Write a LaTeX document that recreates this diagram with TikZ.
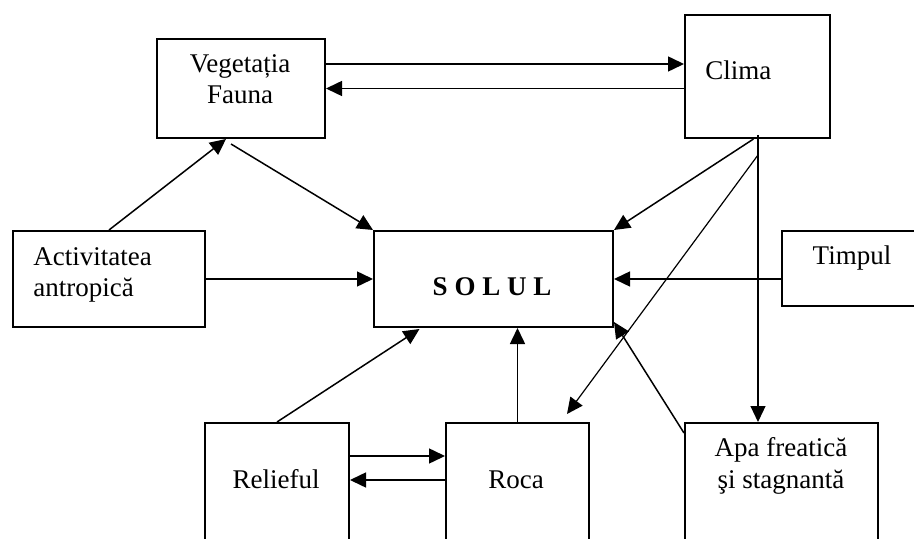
\documentclass[tikz,border=0pt]{standalone}
\usepackage{fontspec}
\setmainfont{Liberation Serif}
\usetikzlibrary{arrows.meta,calc}

\begin{document}
\begin{tikzpicture}[x=0.5pt,y=-0.5pt,
    box/.style={draw,rectangle,line width=1pt,anchor=north west,inner sep=0pt},
    txt/.style={inner sep=0pt,font=\fontsize{13.5pt}{15.75pt}\selectfont},
    arr/.style={line width=0.75pt,-{Triangle[length=8pt,width=7.5pt]}},
    ln/.style={line width=0.6pt}]
    \clip (0,0) rectangle (914,539);

    % Drawing box Vegetatia / Fauna
    \node [box,minimum width=84pt,minimum height=49.5pt] (veg) at (156,38) {};
    \node [txt,align=center,anchor=base] (vegtxt) at (240,104) {Vegetația\\Fauna};

    % Drawing box Clima
    \node [box,minimum width=72.5pt,minimum height=61.5pt] (clima) at (684,14) {};
    \node [txt,anchor=base west] (climatxt) at (705,80) {Clima};

    % Drawing box Activitatea antropica
    \node [box,minimum width=96pt,minimum height=48pt] (activ) at (12,230) {};
    \node [txt,align=left,anchor=base west] (activtxt) at (33,297) {Activitatea\\antropică};

    % Drawing box SOLUL
    \node [box,minimum width=119.5pt,minimum height=48pt] (solul) at (373,230) {};
    \node [txt,anchor=base] (solultxt) at (492,296) {\bfseries S O L U L};

    % Drawing box Timpul
    \node [box,minimum width=80pt,minimum height=37.5pt] (timpul) at (781,230) {};
    \node [txt,anchor=base] (timpultxt) at (852,265) {Timpul};

    % Drawing box Relieful
    \node [box,minimum width=72pt,minimum height=70pt] (relief) at (204,422) {};
    \node [txt,anchor=base] (relieftxt) at (276,488) {Relieful};

    % Drawing box Roca
    \node [box,minimum width=71.5pt,minimum height=70pt] (roca) at (445,422) {};
    \node [txt,anchor=base] (rocatxt) at (516,488) {Roca};

    % Drawing box Apa freatica
    \node [box,minimum width=96.5pt,minimum height=70pt] (apa) at (684,422) {};
    \node [txt,align=center,anchor=base] (apatxt) at (781,488) {Apa freatică\\şi stagnantă};

    % Drawing arrows between Vegetatia and Clima
    \coordinate (vc) at ($(veg.east)+(0,-24.5)$);
    \draw [arr] (vc) -- (vc -| clima.west);
    \draw [arr] (veg.east -| clima.west) -- (veg.east);

    % Drawing arrows towards Vegetatia and from it
    \draw [arr] (activ.north) -- ($(veg.south)+(-15,0)$);
    \draw [arr] ($(veg.south)+(-10,5)$) -- (solul.north west);

    % Drawing arrows out of Clima
    \coordinate (cl1) at ($(clima.south)+(0.5,-4)$);
    \coordinate (cl2) at ($(clima.south)+(0.5,16)$);
    \draw [arr] ($(clima.south)+(-4,0)$) -- (solul.north east);
    \draw [arr,ln] (cl1) -- (cl1 |- apa.north);
    \draw [arr,ln] (cl2) -- ($(roca.north east)+(-23,-8)$);

    % Drawing horizontal arrows into SOLUL
    \draw [arr] (activ.east) -- (solul.west);
    \draw [arr] (solul.east -| timpul.west) -- (solul.east);

    % Drawing arrows from the bottom row
    \draw [arr] (relief.north) -- ($(solul.south)+(-74,1)$);
    \draw [arr] (roca.north) -- (roca.north |- solul.south);
    \draw [arr] ($(apa.north west)+(0,11)$) -- ($(solul.south east)+(0,-6)$);

    % Drawing arrows between Relieful and Roca
    \coordinate (rr1) at ($(relief.north east)+(0,34)$);
    \coordinate (rr2) at ($(roca.north west)+(0,58)$);
    \draw [arr] (rr1) -- (rr1 -| roca.west);
    \draw [arr] (rr2) -- (rr2 -| relief.east);
\end{tikzpicture}
\end{document}
